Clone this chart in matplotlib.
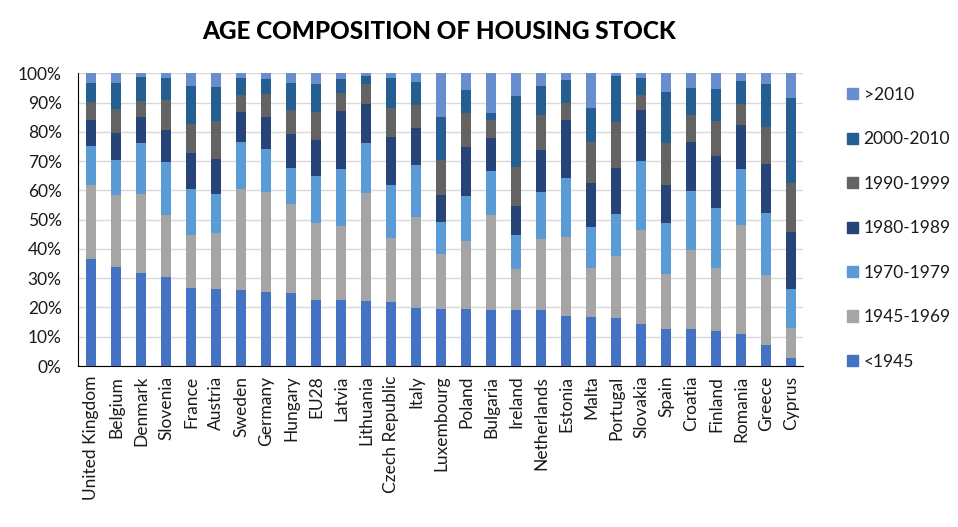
import numpy as np
import matplotlib
matplotlib.use('Agg')
from matplotlib import pyplot as plt
from matplotlib.ticker import PercentFormatter
from matplotlib.patches import Patch

countries = ['United Kingdom', 'Belgium', 'Denmark', 'Slovenia', 'France', 'Austria',
             'Sweden', 'Germany', 'Hungary', 'EU28', 'Latvia', 'Lithuania',
             'Czech Republic', 'Italy', 'Luxembourg', 'Poland', 'Bulgaria', 'Ireland',
             'Netherlands', 'Estonia', 'Malta', 'Portugal', 'Slovakia', 'Spain',
             'Croatia', 'Finland', 'Romania', 'Greece', 'Cyprus']

periods = ['<1945', '1945-1969', '1970-1979', '1980-1989', '1990-1999', '2000-2010', '>2010']

pre1945 = [36.6, 33.8, 31.8, 30.4, 26.7, 26.3, 26.0, 25.3, 24.9, 22.6, 22.6, 22.2, 21.9, 19.8,
           19.5, 19.5, 19.1, 19.1, 19.1, 17.1, 16.7, 16.4, 14.4, 12.6, 12.6, 12.0, 10.9, 7.2, 2.7]
p1945_69 = [25.2, 24.6, 27.0, 21.2, 18.1, 19.1, 34.5, 34.2, 30.5, 26.3, 25.2, 36.9, 21.8, 31.1,
            18.8, 23.2, 32.5, 14.0, 24.3, 27.0, 16.8, 21.2, 32.1, 18.8, 27.0, 21.5, 37.3, 23.9, 10.3]
p1970s = [13.4, 12.0, 17.4, 18.1, 15.7, 13.4, 16.0, 14.6, 12.3, 16.0, 19.5, 17.1, 18.1, 17.8,
          10.9, 15.4, 15.0, 11.7, 16.1, 20.1, 14.0, 14.3, 23.5, 17.5, 20.2, 20.5, 19.1, 21.2, 13.3]
p1980s = [8.9, 9.2, 8.9, 10.9, 12.3, 11.9, 10.3, 11.0, 11.6, 12.3, 19.8, 13.3, 16.4, 12.6,
          9.2, 16.7, 11.3, 9.9, 14.3, 19.9, 15.0, 15.8, 17.5, 12.9, 16.7, 17.8, 15.0, 16.7, 19.5]
p1990s = [6.1, 8.2, 5.4, 10.3, 9.9, 13.0, 5.8, 7.8, 8.2, 9.6, 6.2, 6.9, 10.0, 7.9,
          12.0, 11.6, 6.2, 13.3, 12.0, 5.8, 14.0, 15.7, 5.1, 14.4, 9.3, 11.9, 7.2, 12.7, 16.7]
p2000s = [6.5, 8.9, 8.2, 7.5, 13.0, 11.6, 5.8, 5.2, 9.2, 9.6, 4.8, 2.7, 10.2, 7.8,
          14.7, 7.9, 2.3, 24.3, 9.9, 7.8, 11.7, 15.7, 5.8, 17.4, 9.2, 10.9, 7.9, 14.7, 29.1]
post2010 = [3.3, 3.3, 1.3, 1.6, 4.3, 4.7, 1.6, 1.9, 3.3, 3.6, 1.9, 0.9, 1.6, 3.0,
            14.9, 5.7, 13.6, 7.7, 4.3, 2.3, 11.8, 0.9, 1.6, 6.4, 5.0, 5.4, 2.6, 3.6, 8.4]

series = [pre1945, p1945_69, p1970s, p1980s, p1990s, p2000s, post2010]
colors = ['#4472C4', '#A5A5A5', '#5B9BD5', '#264478', '#636363', '#255E91', '#698ED0']

plt.rcParams['font.family'] = ['Lato', 'DejaVu Sans']
txtcol = '#1a1a1a'

fig = plt.figure(figsize=(9.58, 5.27), dpi=100)
ax = fig.add_axes([0.0819, 0.3055, 0.7568, 0.5555])

x = np.arange(len(countries))
bottom = np.zeros(len(countries))
for vals, col, lab in zip(series, colors, periods):
    vals = np.array(vals)
    ax.bar(x, vals, 0.4, bottom=bottom, color=col, label=lab, zorder=3)
    bottom += vals

ax.set_xlim(-0.5, len(countries) - 0.5)
ax.set_ylim(0, 100)
ax.set_yticks(np.arange(0, 101, 10))
ax.yaxis.set_major_formatter(PercentFormatter(decimals=0))
ax.set_xticks(x)
ax.set_xticklabels(countries, rotation=90, fontsize=12.5, color=txtcol)
for t in ax.get_yticklabels():
    t.set_fontsize(12.5)
    t.set_color(txtcol)
ax.tick_params(axis='both', length=0)
ax.tick_params(axis='y', pad=12)
ax.tick_params(axis='x', pad=7)
ax.grid(axis='y', color='#D9D9D9', linewidth=1, zorder=0)
for side in ['top', 'right']:
    ax.spines[side].set_visible(False)
ax.spines['left'].set_color('black')
ax.spines['bottom'].set_color('black')

handles = [Patch(color=c, label=l) for c, l in zip(colors, periods)][::-1]
leg = fig.legend(handles=handles, loc='upper left', bbox_to_anchor=(0.868, 0.865),
                 frameon=False, prop={'size': 12.5},
                 handlelength=0.6, handleheight=0.6, handletextpad=0.35, labelspacing=1.64)
for t in leg.get_texts():
    t.set_color(txtcol)

fig.text(0.458, 0.94, 'AGE COMPOSITION OF HOUSING STOCK', ha='center', va='center',
         fontsize=17.5, fontweight='black')

fig.savefig('out.png', dpi=100)
